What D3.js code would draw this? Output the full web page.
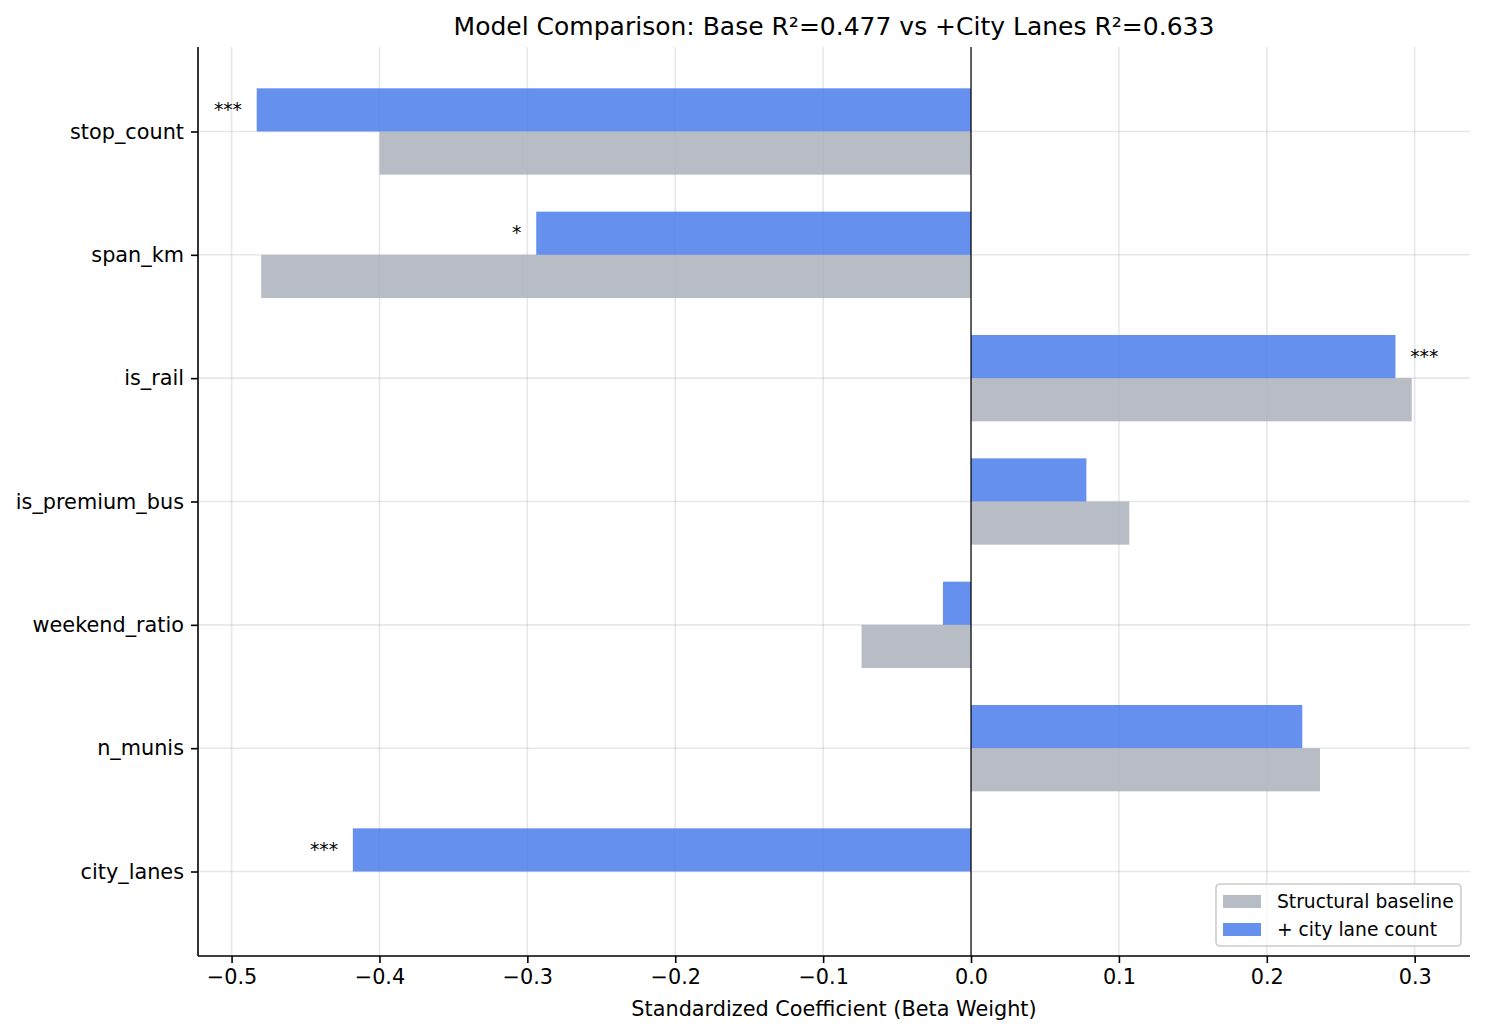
<!DOCTYPE html>
<meta charset="utf-8">
<script src="https://d3js.org/d3.v7.min.js"></script>
<style>
  body { margin: 0; background: #fff; }
  text { font-family: "DejaVu Sans", sans-serif; fill: #000; }
</style>
<div id="my_dataviz"></div>
<script>

// data
var features = ["stop_count", "span_km", "is_rail", "is_premium_bus", "weekend_ratio", "n_munis", "city_lanes"];
var baseCoef = [-0.400, -0.480, 0.298, 0.107, -0.074, 0.236, null];
var fullCoef = [-0.483, -0.294, 0.287, 0.078, -0.019, 0.224, -0.418];
var stars    = ["***", "*", "***", "", "", "", "***"];
var xTicks   = [-0.5, -0.4, -0.3, -0.2, -0.1, 0.0, 0.1, 0.2, 0.3];
var seriesNames = ["Structural baseline", "+ city lane count"];

var W = 1485, H = 1035;
var margin = {top: 47, right: 15, bottom: 79, left: 198};

var svg = d3.select("#my_dataviz")
  .append("svg")
    .attr("width", W)
    .attr("height", H);

// scales
var x = d3.scaleLinear()
  .domain([-0.5227, 0.3374])
  .range([margin.left, W - margin.right]);

var y = d3.scaleLinear()
  .domain([-0.685, 6.685])
  .range([margin.top, H - margin.bottom]);

var barH = 0.35;
var blue = "#4a7deb", grey = "#acb0ba";

// grid
svg.append("g")
  .selectAll("line")
  .data(xTicks)
  .enter()
  .append("line")
    .attr("x1", function(d) { return x(d); })
    .attr("x2", function(d) { return x(d); })
    .attr("y1", y.range()[0])
    .attr("y2", y.range()[1])
    .attr("stroke", "#b0b0b0")
    .attr("stroke-opacity", 0.3)
    .attr("stroke-width", 1.6);

svg.append("g")
  .selectAll("line")
  .data(features)
  .enter()
  .append("line")
    .attr("x1", x.range()[0])
    .attr("x2", x.range()[1])
    .attr("y1", function(d, i) { return y(i); })
    .attr("y2", function(d, i) { return y(i); })
    .attr("stroke", "#b0b0b0")
    .attr("stroke-opacity", 0.3)
    .attr("stroke-width", 1.6);

// bars: grey (baseline) below center, blue (full) above
svg.append("g")
  .selectAll("rect")
  .data(baseCoef)
  .enter()
  .filter(function(d) { return d !== null; })
  .append("rect")
    .attr("x", function(d) { return x(Math.min(0, d)); })
    .attr("width", function(d) { return Math.abs(x(d) - x(0)); })
    .attr("y", function(d, i) { return y(baseCoef.indexOf(d)); })
    .attr("height", y(barH) - y(0))
    .attr("fill", grey)
    .attr("fill-opacity", 0.85);

svg.append("g")
  .selectAll("rect")
  .data(fullCoef)
  .enter()
  .append("rect")
    .attr("x", function(d) { return x(Math.min(0, d)); })
    .attr("width", function(d) { return Math.abs(x(d) - x(0)); })
    .attr("y", function(d, i) { return y(i - barH); })
    .attr("height", y(barH) - y(0))
    .attr("fill", blue)
    .attr("fill-opacity", 0.85);

// significance stars
svg.append("g")
  .selectAll("text")
  .data(fullCoef)
  .enter()
  .append("text")
    .attr("x", function(d) { return d < 0 ? x(d - 0.01) : x(d + 0.01); })
    .attr("y", function(d, i) { return y(i - barH / 2) + 6; })
    .attr("text-anchor", function(d) { return d < 0 ? "end" : "start"; })
    .style("font-size", "18.7px")
    .text(function(d, i) { return stars[i]; });

// zero line
svg.append("line")
  .attr("x1", x(0)).attr("x2", x(0))
  .attr("y1", y.range()[0]).attr("y2", y.range()[1])
  .attr("stroke", "#000")
  .attr("stroke-width", 1.2);

// X axis
var fmt = d3.format(".1f");
var xAxis = svg.append("g")
  .attr("transform", "translate(0," + y.range()[1] + ")")
  .call(d3.axisBottom(x).tickValues(xTicks).tickSize(7)
    .tickFormat(function(d) { return fmt(d).replace("-", "\u2212"); }));
xAxis.select(".domain").attr("stroke", "#000").attr("stroke-width", 1.6)
  .attr("d", "M" + x.range()[0] + ",0H" + x.range()[1]);
xAxis.selectAll(".tick line").attr("stroke", "#000").attr("stroke-width", 1.6);
xAxis.selectAll("text")
  .style("font-size", "20.8px")
  .style("font-family", "DejaVu Sans")
  .attr("y", 13)
  .attr("dy", "0.71em");

// Y axis
var yAxis = svg.append("g")
  .attr("transform", "translate(" + x.range()[0] + ",0)")
  .call(d3.axisLeft(y).tickValues(d3.range(features.length)).tickSize(7)
    .tickFormat(function(d) { return features[d]; }));
yAxis.select(".domain").attr("stroke", "#000").attr("stroke-width", 1.6)
  .attr("d", "M0," + y.range()[0] + "V" + y.range()[1]);
yAxis.selectAll(".tick line").attr("stroke", "#000").attr("stroke-width", 1.6);
yAxis.selectAll("text")
  .style("font-size", "20.8px")
  .style("font-family", "DejaVu Sans")
  .attr("x", -14);

// title and axis label
svg.append("text")
  .attr("x", (x.range()[0] + x.range()[1]) / 2)
  .attr("y", 35)
  .attr("text-anchor", "middle")
  .style("font-size", "25px")
  .text("Model Comparison: Base R\u00b2=0.477 vs +City Lanes R\u00b2=0.633");

svg.append("text")
  .attr("x", (x.range()[0] + x.range()[1]) / 2)
  .attr("y", 1016)
  .attr("text-anchor", "middle")
  .style("font-size", "20.8px")
  .text("Standardized Coefficient (Beta Weight)");

// legend
var legend = svg.append("g").attr("transform", "translate(1216,884)");
legend.append("rect")
  .attr("width", 245).attr("height", 62)
  .attr("rx", 4)
  .attr("fill", "#fff").attr("fill-opacity", 0.8)
  .attr("stroke", "#cccccc").attr("stroke-width", 1.6);
var items = legend.selectAll("g.item")
  .data(seriesNames)
  .enter()
  .append("g")
    .attr("class", "item")
    .attr("transform", function(d, i) { return "translate(7," + (11 + i * 28) + ")"; });
items.append("rect")
  .attr("width", 38).attr("height", 13)
  .attr("fill", function(d, i) { return i === 0 ? grey : blue; })
  .attr("fill-opacity", 0.85);
items.append("text")
  .attr("x", 54).attr("y", 6.5)
  .attr("dy", "0.35em")
  .style("font-size", "18.7px")
  .text(function(d) { return d; });

</script>
